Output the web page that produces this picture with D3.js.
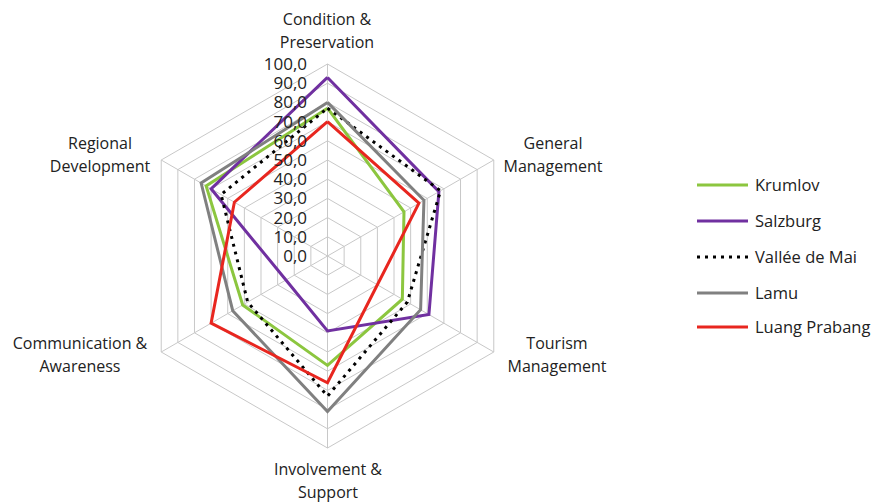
<!DOCTYPE html>
<html><head><meta charset="utf-8">
<script src="https://cdn.jsdelivr.net/npm/d3@7"></script>
<style>body{margin:0;background:#fff;} svg{display:block;}</style>
</head><body>
<svg id="c" width="877" height="503"></svg>
<script>
const categories = [["Condition &","Preservation"],["General","Management"],["Tourism","Management"],["Involvement &","Support"],["Communication &","Awareness"],["Regional","Development"]];
const seriesNames = ["Krumlov","Salzburg","Vallée de Mai","Lamu","Luang Prabang"];
const krumlov = [77,46,45,57,51,73];
const salzburg = [93,67,61,39,25,70];
const valleeDeMai = [77,68,48,73,48,64];
const lamu = [80,58,56,81,57,76];
const luangPrabang = [70,55,30,66,70,56];
const tickValues = [0,10,20,30,40,50,60,70,80,90,100];
const seriesValues = [krumlov, salzburg, valleeDeMai, lamu, luangPrabang];
const colors = ["#8cc63f","#7030a0","#000000","#808080","#e8261f"];
const dashes = [null,null,"3,5",null,null];

const svg = d3.select("#c");
const cx = 327.5, cy = 256, R = 192;
const r = d3.scaleLinear().domain([0,100]).range([0,R]);
const n = categories.length;
const ang = i => -Math.PI/2 + i*2*Math.PI/n;
const pt = (i,v) => [cx + r(v)*Math.cos(ang(i)), cy + r(v)*Math.sin(ang(i))];
const font = "Open Sans, sans-serif";

const g = svg.append("g");
tickValues.slice(1).forEach(t => {
  g.append("path").attr("d", d3.line()(d3.range(n+1).map(i => pt(i%n, t))))
   .attr("fill","none").attr("stroke","#c8c8c8").attr("stroke-width",1);
});
d3.range(n).forEach(i => {
  const p = pt(i,100);
  g.append("line").attr("x1",cx).attr("y1",cy).attr("x2",p[0]).attr("y2",p[1])
   .attr("stroke","#c8c8c8").attr("stroke-width",1);
});
seriesValues.forEach((vals,s) => {
  const p = g.append("path").attr("d", d3.line()(vals.map((v,i)=>pt(i,v)).concat([pt(0,vals[0])])))
   .attr("fill","none").attr("stroke",colors[s]).attr("stroke-width",3).attr("stroke-linejoin","miter");
  if (dashes[s]) p.attr("stroke-dasharray",dashes[s]);
});
tickValues.forEach(t => {
  g.append("text").attr("x", cx-20.5).attr("y", cy - r(t)).attr("dy","0.35em")
   .attr("text-anchor","end").attr("font-family",font).attr("font-size",17)
   .attr("fill","#222").text(d3.format(".1f")(t).replace(".",","));
});
const labelPos = [[327,19],[553,143],[557,343],[328,469],[80,343],[100,143]];
categories.forEach((c,i) => {
  const [x,y] = labelPos[i];
  const t = g.append("text").attr("text-anchor","middle").attr("font-family",font)
    .attr("font-size",16).attr("fill","#222");
  c.forEach((line,k) => t.append("tspan").attr("x",x).attr("y",y+k*23).attr("dy","0.35em").text(line));
});
const ly = [185,221,257,293,327];
seriesNames.forEach((s,i) => {
  const l = g.append("line").attr("x1",697).attr("x2",748).attr("y1",ly[i]).attr("y2",ly[i])
    .attr("stroke",colors[i]).attr("stroke-width",3);
  if (dashes[i]) l.attr("stroke-dasharray",dashes[i]);
  g.append("text").attr("x",755).attr("y",ly[i]).attr("dy","0.35em").attr("font-family",font)
    .attr("font-size",16.5).attr("fill","#222").text(s);
});
</script>
</body></html>
